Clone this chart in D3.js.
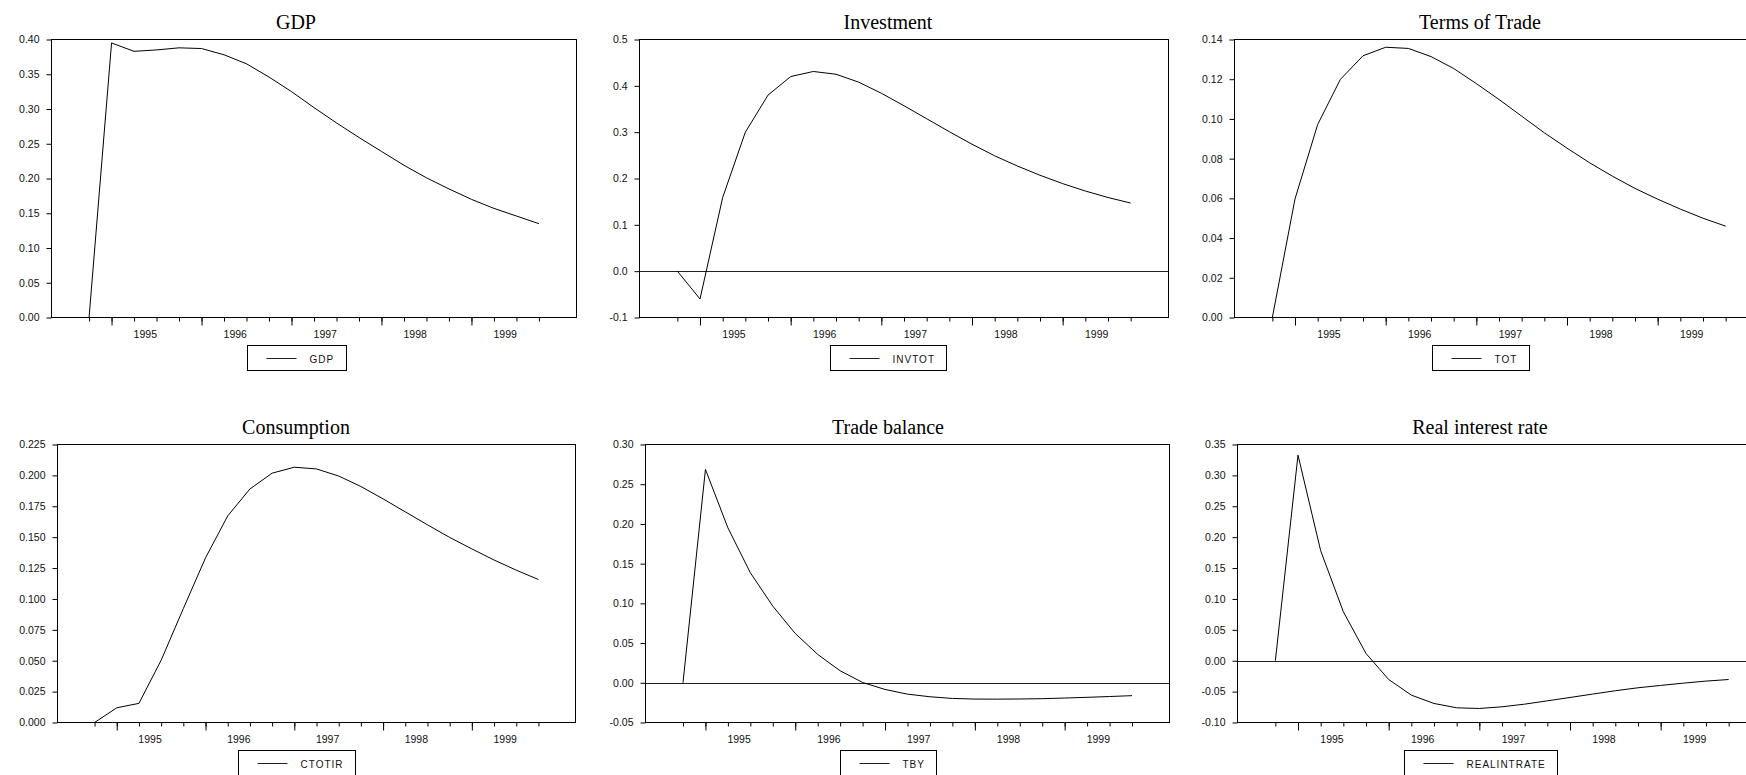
<!DOCTYPE html>
<html>
<head>
<meta charset="utf-8">
<script src="https://cdn.jsdelivr.net/npm/d3@7"></script>
<style>
  body { margin: 0; background: #fff; overflow: hidden; }
  svg { display: block; }
  .tick text { font-family: "Liberation Sans", Arial, sans-serif; font-size: 10.5px; fill: #111; }
  .tick line { stroke: #000; }
  .title { font-family: "Liberation Serif", "Times New Roman", serif; font-size: 20px; fill: #000; }
  .legend text { font-family: "Liberation Sans", Arial, sans-serif; font-size: 10px; fill: #111; letter-spacing: 1px; }
</style>
</head>
<body>
<svg width="1746" height="775"></svg>
<script>
// quarterly periods of the impulse responses
const periods = ['1994Q4',
  '1995Q1', '1995Q2', '1995Q3', '1995Q4',
  '1996Q1', '1996Q2', '1996Q3', '1996Q4',
  '1997Q1', '1997Q2', '1997Q3', '1997Q4',
  '1998Q1', '1998Q2', '1998Q3', '1998Q4',
  '1999Q1', '1999Q2', '1999Q3', '1999Q4'];
const years = ['1995', '1996', '1997', '1998', '1999'];

const gdp = [0, 0.395, 0.383, 0.385, 0.388, 0.387, 0.378, 0.365, 0.346, 0.325, 0.302,
  0.280, 0.259, 0.239, 0.219, 0.201, 0.185, 0.170, 0.157, 0.146, 0.135];
const invtot = [0, -0.060, 0.159, 0.300, 0.380, 0.420, 0.431, 0.425, 0.408, 0.384, 0.357,
  0.329, 0.301, 0.274, 0.249, 0.227, 0.207, 0.189, 0.173, 0.159, 0.147];
const tot = [0, 0.0597, 0.0972, 0.1199, 0.1318, 0.1361, 0.1355, 0.1314, 0.1254, 0.1178, 0.1098,
  0.1014, 0.0930, 0.0853, 0.0779, 0.0712, 0.0650, 0.0596, 0.0546, 0.0500, 0.0460];
const ctotir = [0, 0.0119, 0.0155, 0.0504, 0.0922, 0.1333, 0.1672, 0.1890, 0.2018, 0.2066, 0.2052,
  0.1995, 0.1910, 0.1810, 0.1705, 0.1600, 0.1498, 0.1405, 0.1315, 0.1233, 0.1157];
const tby = [0, 0.2686, 0.1951, 0.1385, 0.0965, 0.0621, 0.0357, 0.0151, 0.0004, -0.0084, -0.0143,
  -0.0176, -0.0197, -0.0205, -0.0206, -0.0204, -0.0200, -0.0192, -0.0183, -0.0173, -0.0162];
const realintrate = [0, 0.3328, 0.1780, 0.0792, 0.0117, -0.0304, -0.0557, -0.0692, -0.0762, -0.0773, -0.0746,
  -0.0703, -0.0649, -0.0595, -0.0540, -0.0486, -0.0438, -0.0400, -0.0363, -0.0330, -0.0304];

const titles = ['GDP', 'Investment', 'Terms of Trade', 'Consumption', 'Trade balance', 'Real interest rate'];
const legends = ['GDP', 'INVTOT', 'TOT', 'CTOTIR', 'TBY', 'REALINTRATE'];
const series = [gdp, invtot, tot, ctotir, tby, realintrate];
const yDomains = [[0, 0.40], [-0.1, 0.5], [0, 0.14], [0, 0.225], [-0.05, 0.30], [-0.10, 0.35]];
const yTickSteps = [0.05, 0.1, 0.02, 0.025, 0.05, 0.05];
const yDecimals = [2, 1, 2, 3, 2, 2];

// frame boxes [x0, x1, y0, y1] and panel centres
const frames = [
  [51.5, 576.5, 39.5, 317.5],
  [639.5, 1168.5, 39.5, 317.5],
  [1234.5, 1763.5, 39.5, 317.5],
  [57.5, 575.5, 444.5, 722.5],
  [645.5, 1169.5, 444.5, 722.5],
  [1237.5, 1766.5, 444.5, 722.5]
];
const centers = [296, 888, 1480, 296, 888, 1480];

const locale = d3.formatLocale({ decimal: '.', thousands: ',', grouping: [3], currency: ['', ''], minus: '-' });

const svg = d3.select('svg');

const drawPanel = (i) => {
  const [x0, x1, y0, y1] = frames[i];
  const values = series[i];
  const g = svg.append('g');

  const xScale = d3.scalePoint()
    .domain(periods)
    .range([x0, x1])
    .padding(1.67);

  const yScale = d3.scaleLinear()
    .domain(yDomains[i])
    .range([y1, y0]);

  // title
  g.append('text')
    .attr('class', 'title')
    .attr('x', centers[i])
    .attr('y', y0 - 10.5)
    .attr('text-anchor', 'middle')
    .text(titles[i]);

  // y axis
  const [lo, hi] = yDomains[i];
  const nTicks = Math.round((hi - lo) / yTickSteps[i]);
  const yTicks = d3.range(nTicks + 1).map(k => +(lo + k * yTickSteps[i]).toFixed(4));
  const yAxis = d3.axisLeft(yScale)
    .tickValues(yTicks)
    .tickSize(5)
    .tickPadding(7)
    .tickFormat(locale.format('.' + yDecimals[i] + 'f'));
  g.append('g')
    .attr('transform', 'translate(' + x0 + ',0)')
    .call(yAxis)
    .call(a => a.select('.domain').remove());

  // x axis: quarter ticks and year ticks
  const minorAxis = d3.axisBottom(xScale).tickValues(periods).tickSize(4).tickFormat('');
  const majorAxis = d3.axisBottom(xScale).tickValues(periods.filter(p => p.endsWith('Q1'))).tickSize(8).tickFormat('');
  g.append('g')
    .attr('transform', 'translate(0,' + y1 + ')')
    .call(minorAxis)
    .call(a => a.select('.domain').remove());
  g.append('g')
    .attr('transform', 'translate(0,' + y1 + ')')
    .call(majorAxis)
    .call(a => a.select('.domain').remove());

  g.append('g')
    .attr('class', 'tick')
    .selectAll('text')
    .data(years)
    .enter()
    .append('text')
    .attr('x', yr => (xScale(yr + 'Q1') + xScale(yr + 'Q4')) / 2)
    .attr('y', y1 + 20)
    .attr('text-anchor', 'middle')
    .text(yr => yr);

  // zero line
  if (lo < 0) {
    g.append('line')
      .attr('x1', x0).attr('x2', x1)
      .attr('y1', Math.round(yScale(0)) + 0.5)
      .attr('y2', Math.round(yScale(0)) + 0.5)
      .attr('stroke', '#222')
      .attr('stroke-width', 1);
  }

  // series line
  const line = d3.line()
    .x((d, k) => xScale(periods[k]))
    .y(d => yScale(d));
  g.append('path')
    .datum(values)
    .attr('d', line)
    .attr('fill', 'none')
    .attr('stroke', '#000')
    .attr('stroke-width', 1);

  // frame
  g.append('rect')
    .attr('x', x0).attr('y', y0)
    .attr('width', x1 - x0).attr('height', y1 - y0)
    .attr('fill', 'none')
    .attr('stroke', '#000')
    .attr('stroke-width', 1);

  // legend
  const leg = g.append('g').attr('class', 'legend');
  const box = leg.append('rect')
    .attr('fill', '#fff')
    .attr('stroke', '#000')
    .attr('stroke-width', 1);
  const label = leg.append('text').text(legends[i]);
  const textW = label.node().getComputedTextLength();
  const boxW = Math.round(62 + textW + 12);
  const bx = Math.round(centers[i] - boxW / 2) + 0.5;
  const by = y1 + 28;
  box.attr('x', bx).attr('y', by).attr('width', boxW).attr('height', 25);
  leg.append('line')
    .attr('x1', bx + 19).attr('x2', bx + 49)
    .attr('y1', by + 13).attr('y2', by + 13)
    .attr('stroke', '#222')
    .attr('stroke-width', 1);
  label.attr('x', bx + 62).attr('y', by + 17);
};

titles.forEach((t, i) => drawPanel(i));
</script>
</body>
</html>
